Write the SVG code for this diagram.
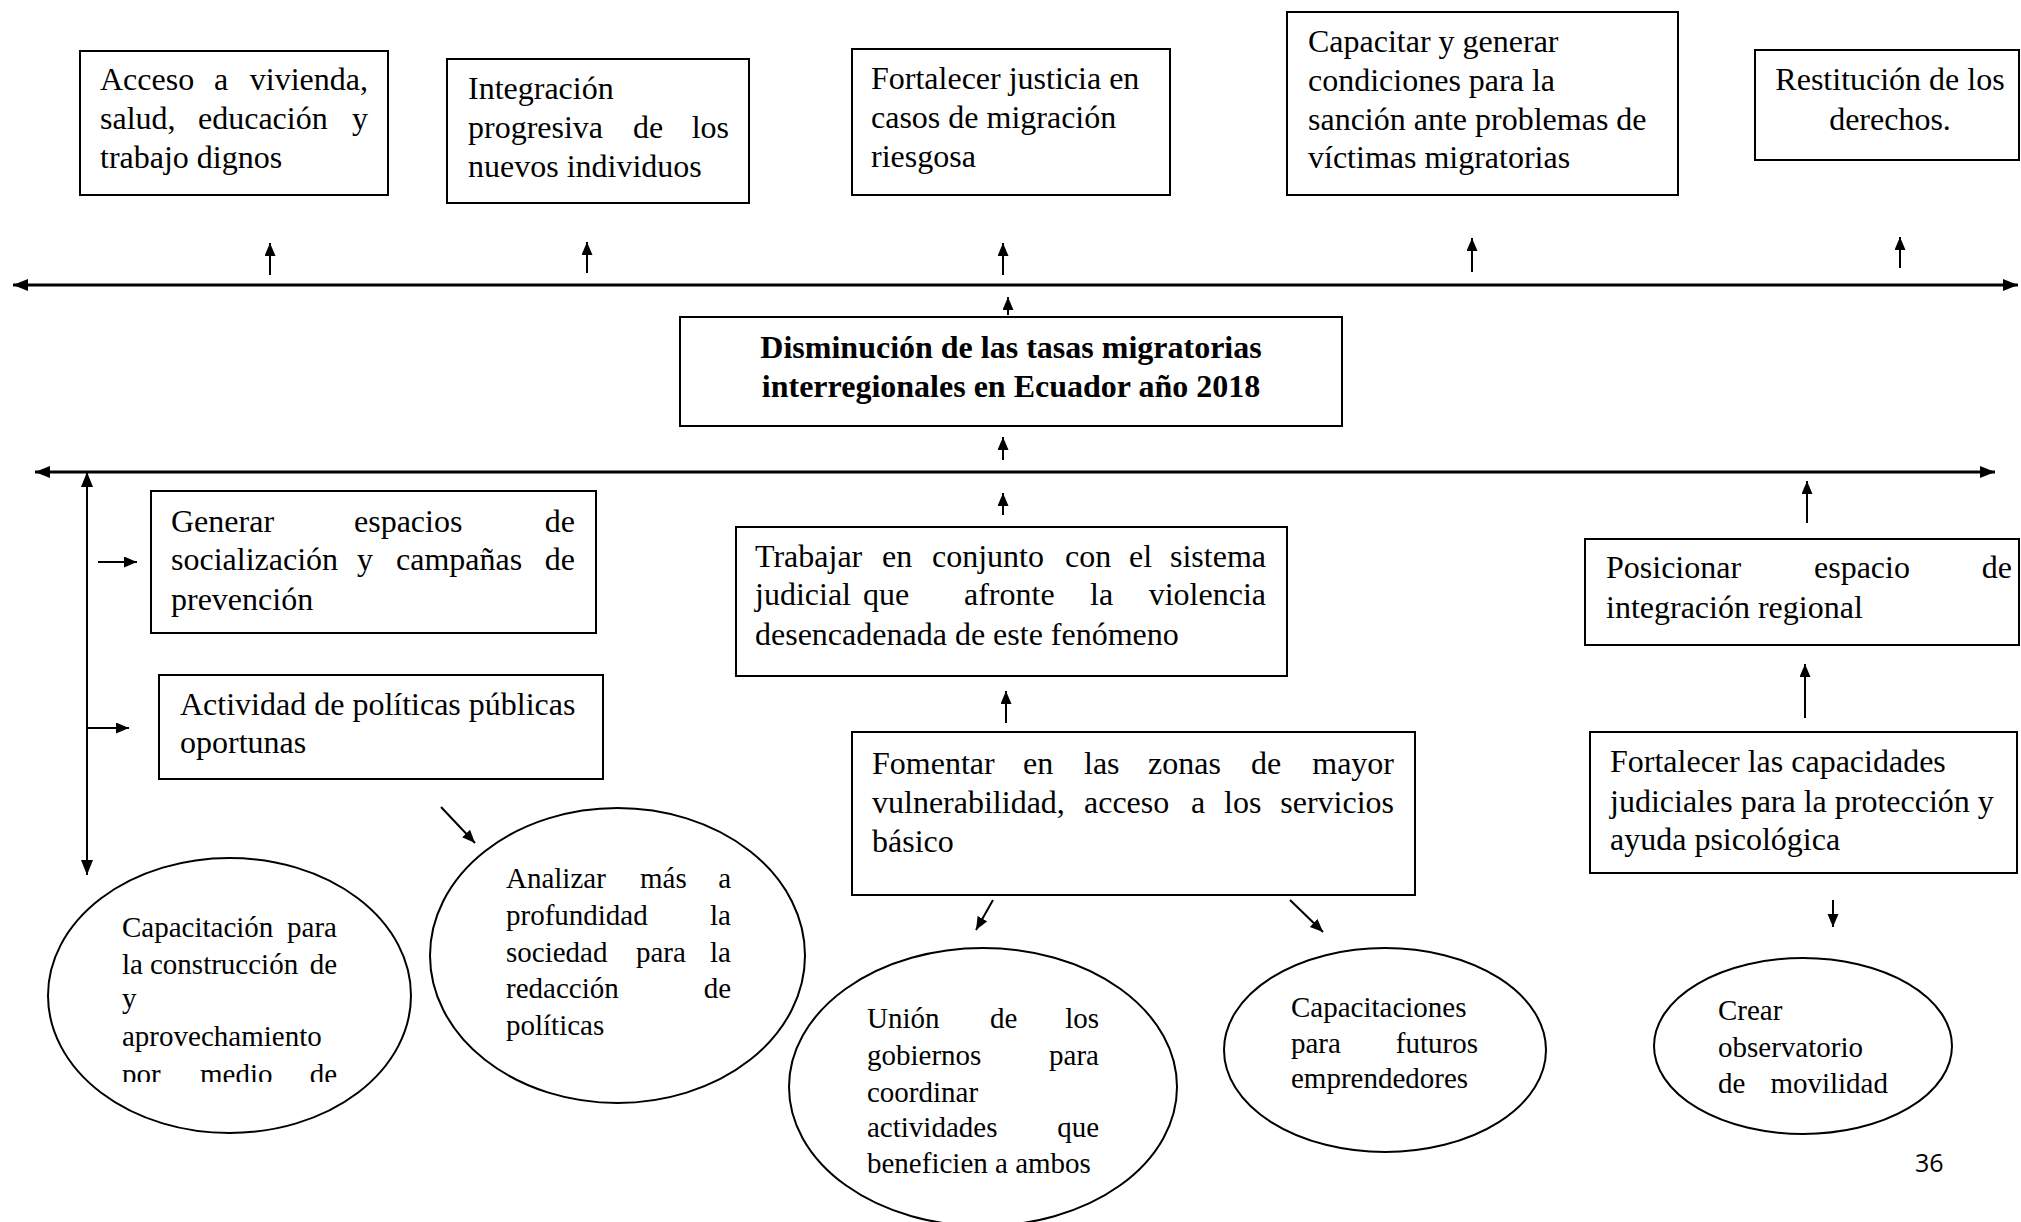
<svg xmlns="http://www.w3.org/2000/svg" width="2021" height="1222" viewBox="0 0 2021 1222">
<style>
.box{fill:#fff;stroke:#000;stroke-width:2}
.ell{fill:#fff;stroke:#000;stroke-width:2}
.t{font-family:"Liberation Serif","Times New Roman",serif;font-size:32px;fill:#000}
.te{font-family:"Liberation Serif","Times New Roman",serif;font-size:29px;fill:#000}
.tb{font-family:"Liberation Serif","Times New Roman",serif;font-size:32px;font-weight:bold;fill:#000}
.e{text-anchor:end}
.m{text-anchor:middle}
.big{fill:none;stroke:#000;stroke-width:3}
.sm{fill:none;stroke:#000;stroke-width:2}
.pg{font-family:"Open Sans","Liberation Sans",sans-serif;font-size:25px;fill:#000}
</style>
<defs>
<marker id="ab" markerUnits="userSpaceOnUse" markerWidth="16" markerHeight="16" refX="15" refY="7.5" orient="auto"><path d="M0,0 L15,7.5 L0,15 z" fill="#000"/></marker>
<marker id="abs" markerUnits="userSpaceOnUse" markerWidth="16" markerHeight="14" refX="15" refY="6" orient="auto-start-reverse"><path d="M0,0 L15,6 L0,12 z" fill="#000"/></marker>
<marker id="as" markerUnits="userSpaceOnUse" markerWidth="14" markerHeight="12" refX="13" refY="5.5" orient="auto"><path d="M0,0 L13,5.5 L0,11 z" fill="#000"/></marker>
<clipPath id="clip1"><rect x="0" y="0" width="2021" height="1082"/></clipPath>
</defs>
<rect width="2021" height="1222" fill="#fff"/>

<g id="connectors">
<line class="big" x1="13" y1="285" x2="2018" y2="285" marker-start="url(#abs)" marker-end="url(#abs)"/>
<line class="big" x1="35" y1="472" x2="1995" y2="472" marker-start="url(#abs)" marker-end="url(#abs)"/>
<line class="sm" x1="87" y1="472" x2="87" y2="875" marker-start="url(#abs)" marker-end="url(#abs)"/>
<line class="sm" x1="270" y1="275" x2="270" y2="243" marker-end="url(#as)"/>
<line class="sm" x1="587" y1="273" x2="587" y2="242" marker-end="url(#as)"/>
<line class="sm" x1="1003" y1="275" x2="1003" y2="243" marker-end="url(#as)"/>
<line class="sm" x1="1472" y1="272" x2="1472" y2="238" marker-end="url(#as)"/>
<line class="sm" x1="1900" y1="268" x2="1900" y2="237" marker-end="url(#as)"/>
<line class="sm" x1="1008" y1="315" x2="1008" y2="297" marker-end="url(#as)"/>
<line class="sm" x1="1003" y1="460" x2="1003" y2="437" marker-end="url(#as)"/>
<line class="sm" x1="1003" y1="515" x2="1003" y2="493" marker-end="url(#as)"/>
<line class="sm" x1="1006" y1="723" x2="1006" y2="691" marker-end="url(#as)"/>
<line class="sm" x1="1807" y1="523" x2="1807" y2="481" marker-end="url(#as)"/>
<line class="sm" x1="1805" y1="718" x2="1805" y2="664" marker-end="url(#as)"/>
<line class="sm" x1="98" y1="562" x2="137" y2="562" marker-end="url(#as)"/>
<line class="sm" x1="88" y1="728" x2="129" y2="728" marker-end="url(#as)"/>
<line class="sm" x1="441" y1="807" x2="475" y2="843" marker-end="url(#as)"/>
<line class="sm" x1="993" y1="900" x2="976" y2="930" marker-end="url(#as)"/>
<line class="sm" x1="1290" y1="900" x2="1323" y2="932" marker-end="url(#as)"/>
<line class="sm" x1="1833" y1="900" x2="1833" y2="927" marker-end="url(#as)"/>
</g>

<g id="n1">
<rect class="box" x="80" y="51" width="308" height="144"/>
<text class="t" y="90"><tspan x="100">Acceso</tspan><tspan x="214">a</tspan><tspan x="368" class="e">vivienda,</tspan></text>
<text class="t" y="129"><tspan x="100">salud,</tspan><tspan x="198">educación</tspan><tspan x="368" class="e">y</tspan></text>
<text class="t" x="100" y="168">trabajo dignos</text>
</g>

<g id="n2">
<rect class="box" x="447" y="59" width="302" height="144"/>
<text class="t" x="468" y="99">Integración</text>
<text class="t" y="138"><tspan x="468">progresiva</tspan><tspan x="633">de</tspan><tspan x="729" class="e">los</tspan></text>
<text class="t" x="468" y="177">nuevos individuos</text>
</g>

<g id="n3">
<rect class="box" x="852" y="49" width="318" height="146"/>
<text class="t" x="871" y="89">Fortalecer justicia en</text>
<text class="t" x="871" y="128">casos de migración</text>
<text class="t" x="871" y="167">riesgosa</text>
</g>

<g id="n4">
<rect class="box" x="1287" y="12" width="391" height="183"/>
<text class="t" x="1308" y="52">Capacitar y generar</text>
<text class="t" x="1308" y="91">condiciones para la</text>
<text class="t" x="1308" y="130">sanción ante problemas de</text>
<text class="t" x="1308" y="168">víctimas migratorias</text>
</g>

<g id="n5">
<rect class="box" x="1755" y="50" width="264" height="110"/>
<text class="t m" x="1890" y="90">Restitución de los</text>
<text class="t m" x="1890" y="130">derechos.</text>
</g>

<g id="center">
<rect class="box" x="680" y="317" width="662" height="109"/>
<text class="tb m" x="1011" y="358">Disminución de las tasas migratorias</text>
<text class="tb m" x="1011" y="397">interregionales en Ecuador año 2018</text>
</g>

<g id="n6">
<rect class="box" x="151" y="491" width="445" height="142"/>
<text class="t" y="532"><tspan x="171">Generar</tspan><tspan x="354">espacios</tspan><tspan x="575" class="e">de</tspan></text>
<text class="t" y="570"><tspan x="171">socialización</tspan><tspan x="357">y</tspan><tspan x="396">campañas</tspan><tspan x="575" class="e">de</tspan></text>
<text class="t" x="171" y="610">prevención</text>
</g>

<g id="n7">
<rect class="box" x="159" y="675" width="444" height="104"/>
<text class="t" x="180" y="715">Actividad de políticas públicas</text>
<text class="t" x="180" y="753">oportunas</text>
</g>

<g id="n8">
<rect class="box" x="736" y="527" width="551" height="149"/>
<text class="t" y="567"><tspan x="755">Trabajar</tspan><tspan x="882">en</tspan><tspan x="932">conjunto</tspan><tspan x="1065">con</tspan><tspan x="1129">el</tspan><tspan x="1266" class="e">sistema</tspan></text>
<text class="t" y="605"><tspan x="755">judicial</tspan><tspan x="863">que</tspan><tspan x="964">afronte</tspan><tspan x="1090">la</tspan><tspan x="1266" class="e">violencia</tspan></text>
<text class="t" x="755" y="645">desencadenada de este fenómeno</text>
</g>

<g id="n9">
<rect class="box" x="1585" y="539" width="434" height="106"/>
<text class="t" y="578"><tspan x="1606">Posicionar</tspan><tspan x="1814">espacio</tspan><tspan x="2012" class="e">de</tspan></text>
<text class="t" x="1606" y="618">integración regional</text>
</g>

<g id="n10">
<rect class="box" x="852" y="732" width="563" height="163"/>
<text class="t" y="774"><tspan x="872">Fomentar</tspan><tspan x="1023">en</tspan><tspan x="1084">las</tspan><tspan x="1148">zonas</tspan><tspan x="1251">de</tspan><tspan x="1394" class="e">mayor</tspan></text>
<text class="t" y="813"><tspan x="872">vulnerabilidad,</tspan><tspan x="1084">acceso</tspan><tspan x="1191">a</tspan><tspan x="1224">los</tspan><tspan x="1394" class="e">servicios</tspan></text>
<text class="t" x="872" y="852">básico</text>
</g>

<g id="n11">
<rect class="box" x="1590" y="732" width="427" height="141"/>
<text class="t" x="1610" y="772">Fortalecer las capacidades</text>
<text class="t" x="1610" y="812">judiciales para la protección y</text>
<text class="t" x="1610" y="850">ayuda psicológica</text>
</g>

<g id="e1">
<ellipse class="ell" cx="229.5" cy="995.5" rx="181.5" ry="137.5"/>
<text class="te" y="937"><tspan x="122">Capacitación</tspan><tspan x="337" class="e">para</tspan></text>
<text class="te" y="974"><tspan x="122">la</tspan><tspan x="150">construcción</tspan><tspan x="337" class="e">de</tspan></text>
<text class="te" x="122" y="1008">y</text>
<text class="te" x="122" y="1046">aprovechamiento</text>
<text class="te" y="1084" clip-path="url(#clip1)"><tspan x="122">por</tspan><tspan x="200">medio</tspan><tspan x="337" class="e">de</tspan></text>
</g>

<g id="e2">
<ellipse class="ell" cx="617.5" cy="955.5" rx="187.5" ry="147.5"/>
<text class="te" y="888"><tspan x="506">Analizar</tspan><tspan x="640">más</tspan><tspan x="731" class="e">a</tspan></text>
<text class="te" y="925"><tspan x="506">profundidad</tspan><tspan x="731" class="e">la</tspan></text>
<text class="te" y="962"><tspan x="506">sociedad</tspan><tspan x="636">para</tspan><tspan x="731" class="e">la</tspan></text>
<text class="te" y="998"><tspan x="506">redacción</tspan><tspan x="731" class="e">de</tspan></text>
<text class="te" x="506" y="1035">políticas</text>
</g>

<g id="e3">
<ellipse class="ell" cx="983" cy="1087" rx="194" ry="139"/>
<text class="te" y="1028"><tspan x="867">Unión</tspan><tspan x="990">de</tspan><tspan x="1099" class="e">los</tspan></text>
<text class="te" y="1065"><tspan x="867">gobiernos</tspan><tspan x="1099" class="e">para</tspan></text>
<text class="te" x="867" y="1102">coordinar</text>
<text class="te" y="1137"><tspan x="867">actividades</tspan><tspan x="1099" class="e">que</tspan></text>
<text class="te" x="867" y="1173">beneficien a ambos</text>
</g>

<g id="e4">
<ellipse class="ell" cx="1385" cy="1050" rx="161" ry="102"/>
<text class="te" x="1291" y="1017">Capacitaciones</text>
<text class="te" y="1053"><tspan x="1291">para</tspan><tspan x="1478" class="e">futuros</tspan></text>
<text class="te" x="1291" y="1088">emprendedores</text>
</g>

<g id="e5">
<ellipse class="ell" cx="1803" cy="1046" rx="149" ry="88"/>
<text class="te" x="1718" y="1020">Crear</text>
<text class="te" x="1718" y="1057">observatorio</text>
<text class="te" y="1093"><tspan x="1718">de</tspan><tspan x="1888" class="e">movilidad</tspan></text>
</g>

<text class="pg" x="1915" y="1172">36</text>
</svg>
